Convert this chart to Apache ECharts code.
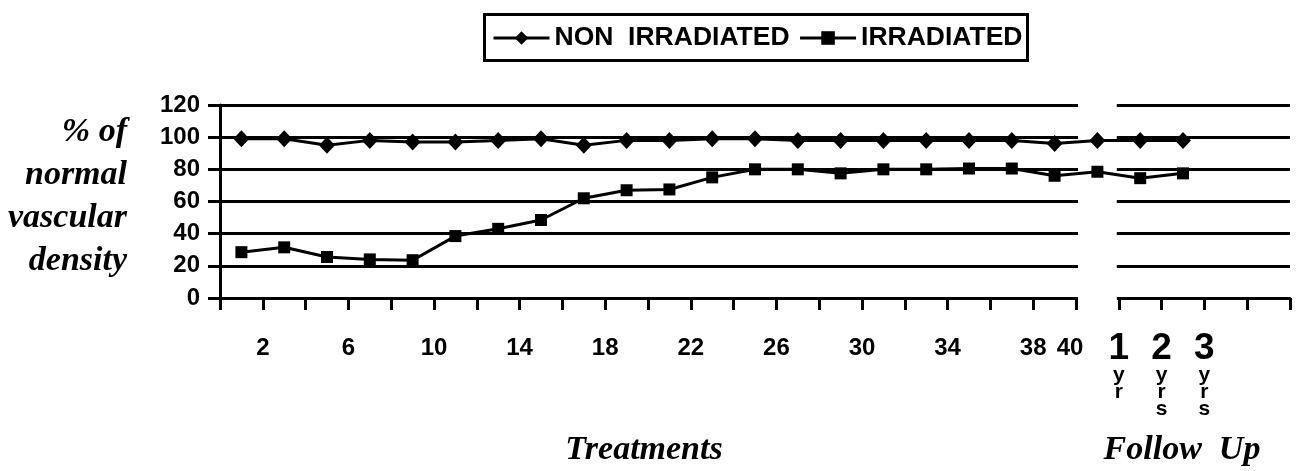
<!DOCTYPE html>
<html>
<head>
<meta charset="utf-8">
<script src="https://cdn.jsdelivr.net/npm/echarts@6/dist/echarts.min.js"></script>
<style>
html,body{margin:0;padding:0;background:#fff;}
#chart{width:1297px;height:471px;}
</style>
</head>
<body>
<div id="chart"></div>
<script>
// ---- data ----
// one category per plotted point (each label sits at the right edge of its band, as in the original)
const categories = ['2','4','6','8','10','12','14','16','18','20','22','24','26','28','30','32','34','36','38','40','1 yr','2 yrs','3 yrs','',''];
const shownLabels = ['2','6','10','14','18','22','26','30','34','38','40','1 yr','2 yrs','3 yrs'];
const nonIrradiated = [99, 99, 95, 98, 97, 97, 98, 99, 95, 98, 98, 99, 99, 98, 98, 98, 98, 98, 98, 96, 98, 98, 98];
const irradiated = [28.5, 31.5, 25.5, 24, 23.5, 38.5, 43, 48.5, 62, 67, 67.5, 75, 80, 80, 77.5, 80, 80, 80.5, 80.5, 76, 78.5, 74.5, 77.5];
const yTicks = {min: 0, max: 120, step: 20};
const seriesNames = ['NON  IRRADIATED', 'IRRADIATED'];
const yTitle = '% of\nnormal\nvascular\ndensity';
const xTitles = ['Treatments', 'Follow  Up'];

const SANS = "'Liberation Sans', Arial, Helvetica, sans-serif";
const SERIF = "'Liberation Serif', 'Times New Roman', serif";
const chart = echarts.init(document.getElementById('chart'), null, {renderer: 'canvas'});

const tickLabelCats = [''].concat(categories);

function fmtLabel(v) {
  if (shownLabels.indexOf(v) < 0) return '';
  const m = v.match(/^(\d+) (\w+)$/);
  if (m) {
    return '{big|' + m[1] + '}\n' + m[2].split('').map(c => '{sm|' + c + '}').join('\n');
  }
  if (v === '40') return '{e|' + v + '}';
  return '{n|' + v + '}';
}

const option = {
  backgroundColor: '#fff',
  animation: false,
  legend: {
    data: seriesNames,
    left: 484.5, top: 14.5,
    padding: [10, 5, 9, 7.5],
    borderColor: '#000', borderWidth: 3,
    itemWidth: 56, itemHeight: 17, itemGap: 9,
    selectedMode: false,
    lineStyle: {width: 3, color: '#000'},
    textStyle: {fontFamily: SANS, fontSize: 26.5, fontWeight: 'bold', color: '#000'}
  },
  grid: {left: 220, right: 7, top: 105, bottom: 173, containLabel: false, outerBoundsMode: 'none'},
  xAxis: [{
    type: 'category', position: 'bottom',
    data: categories, boundaryGap: true,
    axisLine: {show: true, lineStyle: {color: '#000', width: 3}},
    axisTick: {show: true, interval: 0, length: 12, lineStyle: {color: '#000', width: 3}},
    axisLabel: {show: false},
    splitLine: {show: false}
  }, {
    type: 'category', position: 'bottom',
    data: tickLabelCats, boundaryGap: false,
    axisLine: {show: false}, axisTick: {show: false}, splitLine: {show: false},
    axisLabel: {
      show: true, interval: 0, margin: 32,
      formatter: fmtLabel,
      color: '#000', fontFamily: SANS, fontWeight: 'bold',
      rich: {
        n: {fontFamily: SANS, fontWeight: 'bold', fontSize: 24, lineHeight: 26, padding: [10, 0, 0, 0], color: '#000'},
        e: {fontFamily: SANS, fontWeight: 'bold', fontSize: 24, lineHeight: 26, padding: [10, 12, 0, 0], color: '#000'},
        big: {fontFamily: SANS, fontWeight: 'bold', fontSize: 37, lineHeight: 37, color: '#000'},
        sm: {fontFamily: SANS, fontWeight: 'bold', fontSize: 21, lineHeight: 17, color: '#000'}
      }
    }
  }],
  yAxis: {
    type: 'value', min: yTicks.min, max: yTicks.max, interval: yTicks.step,
    axisLine: {show: true, lineStyle: {color: '#000', width: 3}},
    axisTick: {show: true, length: 12, lineStyle: {color: '#000', width: 3}},
    axisLabel: {margin: 20, fontFamily: SANS, fontSize: 24, fontWeight: 'bold', color: '#000'},
    splitLine: {show: true, lineStyle: {color: '#000', width: 3}}
  },
  series: [{
    name: seriesNames[0], type: 'line', xAxisIndex: 0, yAxisIndex: 0,
    data: nonIrradiated, symbol: 'diamond', symbolSize: [16, 17],
    color: '#000', itemStyle: {color: '#000'},
    lineStyle: {color: '#000', width: 3}, z: 4
  }, {
    name: seriesNames[1], type: 'line', xAxisIndex: 0, yAxisIndex: 0,
    data: irradiated, symbol: 'rect', symbolSize: 12,
    color: '#000', itemStyle: {color: '#000'},
    lineStyle: {color: '#000', width: 3}, z: 4
  }]
};
chart.setOption(option);

// break in the grid between the treatment block and the follow-up block (band of the 1st follow-up point)
const gapStart = chart.convertToPixel({xAxisIndex: 1}, categories.indexOf('40') + 1);
const gapEnd = chart.convertToPixel({xAxisIndex: 1}, categories.indexOf('1 yr') + 1);
const yTop = chart.convertToPixel({yAxisIndex: 0}, yTicks.max);
const yBot = chart.convertToPixel({yAxisIndex: 0}, yTicks.min);

chart.setOption({
  graphic: [{
    type: 'rect', z: 1, silent: true,
    shape: {x: gapStart + 2, y: yTop - 3, width: gapEnd - gapStart - 4, height: yBot - yTop + 6},
    style: {fill: '#fff'}
  }, {
    type: 'text', z: 5, silent: true,
    style: {x: 127, y: 197, text: yTitle, align: 'right', verticalAlign: 'middle',
      font: 'italic bold 34px ' + SERIF, lineHeight: 43, fill: '#000'}
  }, {
    type: 'text', z: 5, silent: true,
    style: {x: 644, y: 450, text: xTitles[0], align: 'center', verticalAlign: 'middle',
      font: 'italic bold 34px ' + SERIF, fill: '#000'}
  }, {
    type: 'text', z: 5, silent: true,
    style: {x: 1182, y: 450, text: xTitles[1], align: 'center', verticalAlign: 'middle',
      font: 'italic bold 34px ' + SERIF, fill: '#000'}
  }]
});
</script>
</body>
</html>
